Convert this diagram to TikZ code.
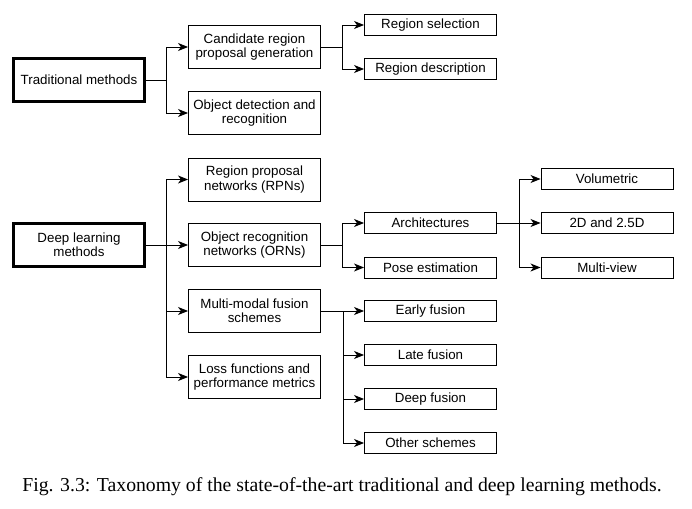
\documentclass[tikz,border=0pt]{standalone}
\usepackage{fontspec}
\setmainfont{Liberation Serif}
\setsansfont{Liberation Sans}
\usetikzlibrary{arrows.meta}

\begin{document}
\begin{tikzpicture}[
    x=0.75pt, y=-0.75pt,
    block/.style={draw, line width=0.7pt, align=center, inner sep=0pt,
        minimum width=99pt, minimum height=32.25pt,
        font=\sffamily\fontsize{10}{10.8}\selectfont},
    leaf/.style={block, minimum height=15.75pt},
    root/.style={block, line width=2.25pt, minimum width=98.25pt, minimum height=32.25pt},
    amark/.style={
    ->,
    >={Stealth[length=7.5pt,width=6pt,inset=2.2pt]},
    line width=0.7pt
    }
]
\useasboundingbox (0,0) rectangle (692,509);

%Traditional branch
\node[root] (trad) at (79,80) {Traditional methods};
\node[block] (cand) at (254.5,47) {Candidate region\\proposal generation};
\node[block] (objdet) at (254.5,113) {Object detection and\\recognition};
\node[leaf] (rsel) at (430.5,25) {Region selection};
\node[leaf] (rdesc) at (430.5,69) {Region description};

%Deep learning branch
\node[root] (deep) at (79,245) {Deep learning\\methods};
\node[block] (rpn) at (254.5,179.5) {Region proposal\\networks (RPNs)};
\node[block] (orn) at (254.5,245) {Object recognition\\networks (ORNs)};
\node[block] (mmf) at (254.5,311) {Multi-modal fusion\\schemes};
\node[block] (loss) at (254.5,377) {Loss functions and\\performance metrics};
\node[leaf] (arch) at (430.5,223) {Architectures};
\node[leaf] (pose) at (430.5,267.5) {Pose estimation};
\node[leaf] (vol) at (607,179) {Volumetric};
\node[leaf] (twod) at (607,223) {2D and 2.5D};
\node[leaf] (mview) at (607,267.5) {Multi-view};
\node[leaf] (early) at (430.5,311) {Early fusion};
\node[leaf] (late) at (430.5,355) {Late fusion};
\node[leaf] (deepf) at (430.5,399) {Deep fusion};
\node[leaf] (other) at (430.5,443) {Other schemes};

%Caption
\node[font=\rmfamily\fontsize{14.8}{17}\selectfont] (cap) at (342,487)
    {Fig. 3.3: Taxonomy of the state-of-the-art traditional and deep learning methods.};

%Draw the connections
\draw[amark] (trad.east) -- ++(20,0) |- (cand.west);
\draw[amark] (trad.east) -- ++(20,0) |- (objdet.west);
\draw[amark] (cand.east) -- ++(21,0) |- (rsel.west);
\draw[amark] (cand.east) -- ++(21,0) |- (rdesc.west);

\draw[amark] (deep.east) -- ++(20,0) |- (rpn.west);
\draw[amark] (deep.east) -- (orn.west);
\draw[amark] (deep.east) -- ++(20,0) |- (mmf.west);
\draw[amark] (deep.east) -- ++(20,0) |- (loss.west);
\draw[amark] (orn.east) -- ++(21,0) |- (arch.west);
\draw[amark] (orn.east) -- ++(21,0) |- (pose.west);
\draw[amark] (arch.east) -- ++(22,0) |- (vol.west);
\draw[amark] (arch.east) -- (twod.west);
\draw[amark] (arch.east) -- ++(22,0) |- (mview.west);
\draw[amark] (mmf.east) -- (early.west);
\draw[amark] (mmf.east) -- ++(22,0) |- (late.west);
\draw[amark] (mmf.east) -- ++(22,0) |- (deepf.west);
\draw[amark] (mmf.east) -- ++(22,0) |- (other.west);

\end{tikzpicture}
\end{document}
